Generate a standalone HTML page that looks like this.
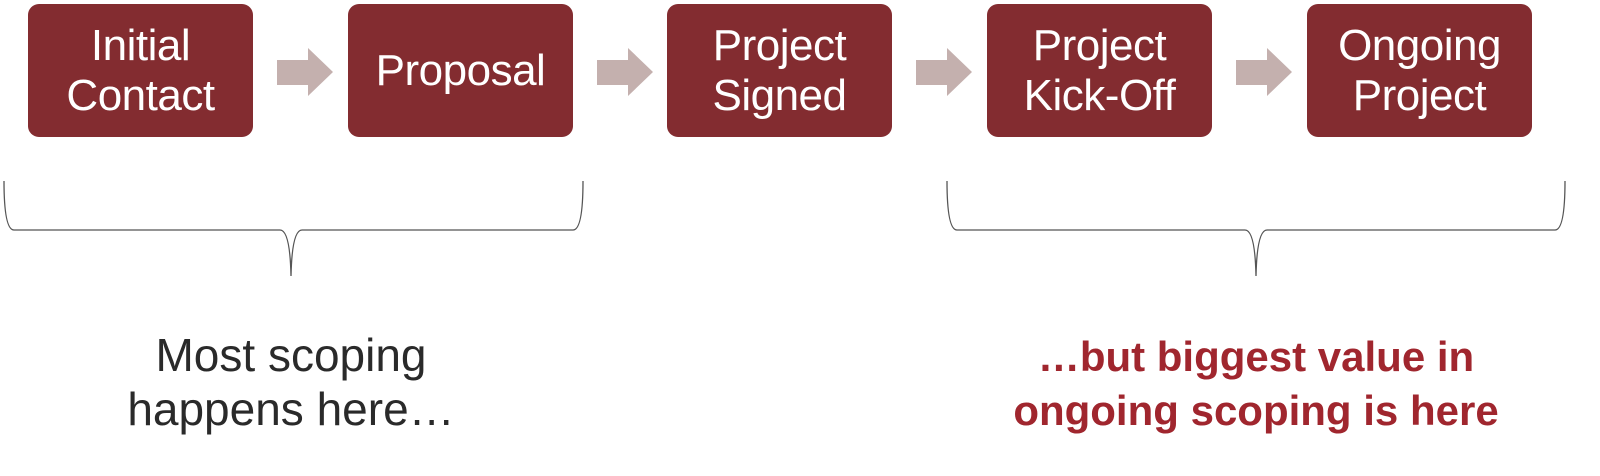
<!DOCTYPE html>
<html><head><style>
body{margin:0;width:1600px;height:476px;background:#fff;position:relative;overflow:hidden;font-family:"Liberation Sans",sans-serif}
.b{position:absolute;top:4px;width:225px;height:133px;background:#832c30;border-radius:11px;color:#fff;font-size:44px;line-height:50px;display:flex;align-items:center;justify-content:center;text-align:center;letter-spacing:-0.5px}
.t{position:absolute;width:700px;text-align:center;font-size:46px;line-height:54px}
</style></head><body>
<div class="b" style="left:28px">Initial<br>Contact</div>
<div class="b" style="left:348px">Proposal</div>
<div class="b" style="left:667px">Project<br>Signed</div>
<div class="b" style="left:987px">Project<br>Kick-Off</div>
<div class="b" style="left:1307px">Ongoing<br>Project</div>
<svg width="1600" height="476" style="position:absolute;left:0;top:0">
<g fill="#c4b0ae">
<polygon points="277,60 308,60 308,48 333,72 308,96 308,85 277,85"/>
<polygon points="597,60 628,60 628,48 653,72 628,96 628,85 597,85"/>
<polygon points="916,60 947,60 947,48 972,72 947,96 947,85 916,85"/>
<polygon points="1236,60 1267,60 1267,48 1292,72 1267,96 1267,85 1236,85"/>
</g>
<g fill="none" stroke="#555" stroke-width="1.3">
<path d="M4,181 Q4,230 14,230 L280,230 Q290,230 291,276 Q292,230 302,230 L573,230 Q583,230 583,181"/>
<path d="M947,181 Q947,230 957,230 L1245,230 Q1255,230 1256,276 Q1257,230 1267,230 L1555,230 Q1565,230 1565,181"/>
</g>
</svg>
<div class="t" style="left:-59px;top:328px;color:#2a2a2a">Most scoping<br>happens here…</div>
<div class="t" style="left:906px;top:330px;color:#a0262e;font-weight:bold;font-size:42px">…but biggest value in<br>ongoing scoping is here</div>
</body></html>
